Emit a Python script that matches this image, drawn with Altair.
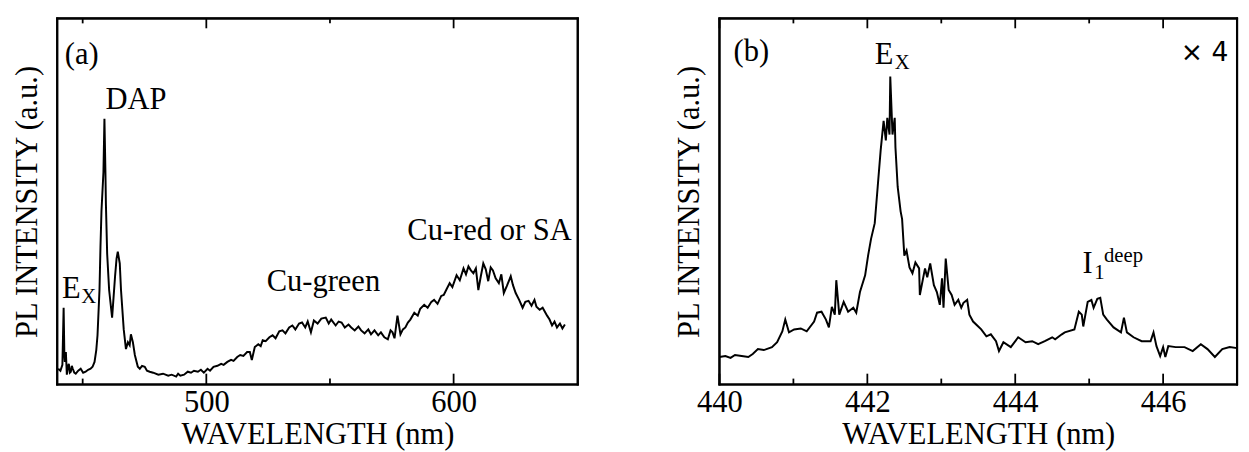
import altair as alt
import pandas as pd

FONT = "Liberation Serif"

# ---------------- panel (a) data: wide-range PL spectrum ----------------
a_nm = [440.1, 441.0, 441.8, 442.3, 442.6, 442.8, 443.2, 443.6, 444.0, 444.4, 444.8, 445.2, 445.6,
        446.0, 446.6, 447.2, 448.2, 449.2, 450.2, 451.2, 452.2, 453.2, 454.0, 454.8, 455.5, 456.0,
        456.8, 457.2, 457.6, 458.4, 458.8, 459.2, 459.4, 459.9, 460.7, 461.9, 463.1, 463.7, 464.2,
        465.0, 465.5, 466.6, 467.5, 468.3, 469.0, 469.5, 470.3, 471.1, 472.3, 473.1, 474.0, 475.1,
        476.0, 477.1, 478.5, 480.6, 482.5, 484.6, 486.0, 487.8, 488.6, 489.5, 491.0, 492.5, 493.8,
        495.0, 496.6, 497.8, 499.0, 500.5, 501.5, 502.9, 504.5, 506.0, 507.0, 508.5, 510.0, 511.0,
        512.5, 513.7, 515.0, 516.5, 517.6, 518.4, 519.6, 521.0, 522.0, 522.8, 524.0, 525.5, 526.8,
        528.0, 529.5, 530.8, 532.0, 533.5, 534.8, 536.0, 537.5, 538.7, 540.0, 541.0, 542.3, 543.5,
        545.0, 546.5, 548.3, 549.5, 550.5, 552.3, 553.5, 554.7, 556.0, 557.5, 558.6, 560.0, 561.5,
        562.6, 564.0, 565.5, 566.6, 568.0, 569.5, 570.6, 572.0, 573.4, 574.5, 575.3, 576.1, 577.3,
        578.5, 579.5, 580.5, 581.5, 582.5, 584.1, 585.5, 586.5, 588.1, 589.5, 591.0, 592.1, 593.5,
        595.0, 596.0, 597.0, 598.4, 599.5, 601.2, 602.5, 604.0, 605.0, 606.0, 607.0, 608.0, 609.0,
        610.0, 611.0, 612.0, 613.0, 614.0, 615.0, 615.9, 617.0, 618.3, 619.3, 620.3, 621.5, 623.1,
        624.0, 625.1, 626.5, 627.9, 629.0, 630.3, 631.5, 632.7, 633.5, 634.8, 636.0, 637.8, 638.8,
        639.8, 640.8, 641.8, 643.0, 644.0, 645.0]
a_int = [16, 14, 20, 78, 30, 23, 33, 10, 18, 21, 12, 13, 19,
         16, 12, 11, 14, 16, 12, 13, 15, 16, 18, 23, 35, 50,
         96, 140, 176, 216, 270, 216, 183, 133, 96, 68, 110, 128, 135,
         123, 96, 56, 36, 43, 40, 51, 43, 30, 18, 16, 19, 18,
         14, 13, 12, 10, 11, 9, 10, 8, 11, 9, 10, 13, 12,
         14, 13, 15, 12, 16, 14, 18, 19, 21, 20, 23, 25, 24,
         28, 30, 29, 33, 33, 25, 38, 41, 39, 45, 44, 48, 50,
         47, 54, 55, 52, 58, 60, 56, 62, 63, 58, 64, 53, 65,
         62, 67, 68, 62, 66, 60, 64, 63, 58, 61, 58, 55, 59,
         55, 52, 56, 51, 55, 50, 53, 48, 46, 55, 53, 47, 70,
         51, 56, 58, 63, 66, 73, 70, 77, 81, 78, 84, 86, 82,
         90, 91, 96, 103, 99, 111, 106, 118, 112, 120, 116, 113, 118,
         96, 110, 123, 117, 105, 119, 116, 108, 103, 112, 93, 100, 110,
         101, 93, 86, 78, 84, 85, 80, 86, 79, 76, 78, 70, 66,
         60, 64, 58, 62, 57, 61]

# ---------------- panel (b) data: band-edge region (x4) ----------------
b_nm = [440.00, 440.08, 440.15, 440.21, 440.30, 440.39, 440.45, 440.52, 440.60, 440.71, 440.78,
        440.85, 440.89, 440.94, 441.01, 441.10, 441.18, 441.28, 441.32, 441.38, 441.44, 441.48,
        441.52, 441.56, 441.58, 441.62, 441.68, 441.74, 441.81, 441.85, 441.90, 441.97, 442.01,
        442.05, 442.10, 442.14, 442.18, 442.22, 442.25, 442.27, 442.30, 442.31, 442.34, 442.37,
        442.38, 442.41, 442.45, 442.47, 442.50, 442.53, 442.57, 442.61, 442.65, 442.70, 442.71,
        442.78, 442.81, 442.85, 442.90, 442.94, 442.98, 443.01, 443.03, 443.06, 443.10, 443.14,
        443.18, 443.23, 443.27, 443.30, 443.35, 443.38, 443.43, 443.50, 443.54, 443.61, 443.67,
        443.74, 443.78, 443.84, 443.94, 444.04, 444.14, 444.23, 444.31, 444.40, 444.50, 444.54,
        444.63, 444.67, 444.80, 444.86, 444.90, 444.92, 444.98, 445.03, 445.06, 445.11, 445.15,
        445.19, 445.24, 445.33, 445.43, 445.47, 445.51, 445.60, 445.71, 445.83, 445.87, 445.91,
        445.96, 446.00, 446.03, 446.07, 446.17, 446.29, 446.40, 446.51, 446.60, 446.70, 446.80,
        446.90, 447.00]
b_int = [28, 29, 27, 30, 29, 28, 31, 36, 35, 38, 43,
         54, 66, 53, 56, 57, 54, 64, 73, 74, 66, 58,
         79, 71, 106, 71, 84, 74, 78, 73, 94, 111, 131,
         148, 164, 201, 238, 268, 248, 271, 254, 313, 254, 271,
         241, 201, 176, 168, 131, 136, 119, 113, 124, 118, 91,
         118, 109, 123, 101, 94, 81, 108, 78, 128, 96, 91,
         81, 86, 78, 83, 86, 71, 64, 59, 56, 49, 51,
         44, 34, 43, 38, 48, 43, 44, 41, 44, 48, 46,
         51, 53, 56, 74, 71, 59, 84, 86, 78, 87, 88,
         71, 66, 58, 53, 68, 53, 48, 44, 44, 53, 39,
         29, 38, 28, 39, 38, 38, 34, 41, 36, 28, 36,
         38, 37]

# axis ticks
a_major = [500, 600]
a_minor = [450, 550]
b_major = [440, 442, 444, 446]
b_minor = [441, 443, 445]

# annotations (text, wavelength, intensity)
a_big = [("(a)", 442.8, 326), ("DAP", 459.2, 280), ("E", 441.6, 88),
         ("Cu-green", 524.4, 95), ("Cu-red or SA", 581.3, 147)]
a_small = [("X", 449.4, 83)]
b_big = [("(b)", 440.19, 329), ("E", 442.10, 326), ("I", 444.91, 113)]
b_small = [("X", 442.37, 321), ("1", 445.07, 107), ("deep", 445.20, 124)]
b_sans = [("\u00d7 4", 446.24, 329)]

W_A, W_B, H = 529, 526, 372
Y_DOM = [0, 372]
FS = 31


def panel(nm, inten, xdom, width, major, minor, big, small, sans, tag):
    xs = alt.Scale(domain=xdom, nice=False, zero=False)
    ys = alt.Scale(domain=Y_DOM, nice=False, zero=False)
    df = pd.DataFrame({"nm": nm, "I": inten})
    x = alt.X("nm:Q", scale=xs,
              axis=alt.Axis(values=major, format="d", ticks=False, domain=False, grid=False,
                            labelFont=FONT, labelFontSize=FS, labelColor="black",
                            labelPadding=3, labelFlush=False, labelOverlap=False,
                            title="WAVELENGTH (nm)", titleFont=FONT, titleFontSize=FS,
                            titleFontWeight="normal", titleColor="black", titlePadding=3))
    y = alt.Y("I:Q", scale=ys,
              axis=alt.Axis(labels=False, ticks=False, domain=False, grid=False,
                            title="PL INTENSITY (a.u.)", titleFont=FONT, titleFontSize=FS,
                            titleFontWeight="normal", titleColor="black", titlePadding=14))
    line = alt.Chart(df).mark_line(color="black", strokeWidth=2, clip=True).encode(x=x, y=y)

    layers = [line]
    for vals, ln in ((major, 11), (minor, 6)):
        tdf = pd.DataFrame({"t": vals})
        tx = alt.X("t:Q", scale=xs)
        layers.append(alt.Chart(tdf).mark_rule(color="black", strokeWidth=1.8).encode(
            x=tx, y=alt.value(H), y2=alt.value(H - ln)))
        layers.append(alt.Chart(tdf).mark_rule(color="black", strokeWidth=1.8).encode(
            x=tx, y=alt.value(0), y2=alt.value(ln - 1)))

    # plot frame
    one = pd.DataFrame({"panel": [tag]})
    for yv in (0, H):
        layers.append(alt.Chart(one).mark_rule(color="black", strokeWidth=2.2).encode(
            x=alt.value(-1), x2=alt.value(width + 1), y=alt.value(yv)))
    for xv in (0, width):
        layers.append(alt.Chart(one).mark_rule(color="black", strokeWidth=2.2).encode(
            x=alt.value(xv), y=alt.value(-1), y2=alt.value(H + 1)))

    def txt(rows, size, font):
        tdf = pd.DataFrame(rows, columns=["label", "nm", "I"])
        return alt.Chart(tdf).mark_text(align="left", baseline="alphabetic", font=font,
                                        fontSize=size, color="black").encode(
            x=alt.X("nm:Q", scale=xs), y=alt.Y("I:Q", scale=ys), text="label:N")

    if big:
        layers.append(txt(big, FS, FONT))
    if small:
        layers.append(txt(small, 21, FONT))
    if sans:
        layers.append(txt(sans, 27, "DejaVu Sans"))
    return alt.layer(*layers).properties(width=width, height=H)


pa = panel(a_nm, a_int, [439.7, 650.2], W_A, a_major, a_minor, a_big, a_small, None, "a")
pb = panel(b_nm, b_int, [440.0, 447.0], W_B, b_major, b_minor, b_big, b_small, b_sans, "b")

chart = alt.hconcat(pa, pb, spacing=93).properties(
    padding={"left": 3, "top": 3, "right": 0, "bottom": 0},
    background="white",
).configure_view(stroke="black", strokeWidth=2)

chart.save("out.html", embed_options={"renderer": "svg", "actions": False})
